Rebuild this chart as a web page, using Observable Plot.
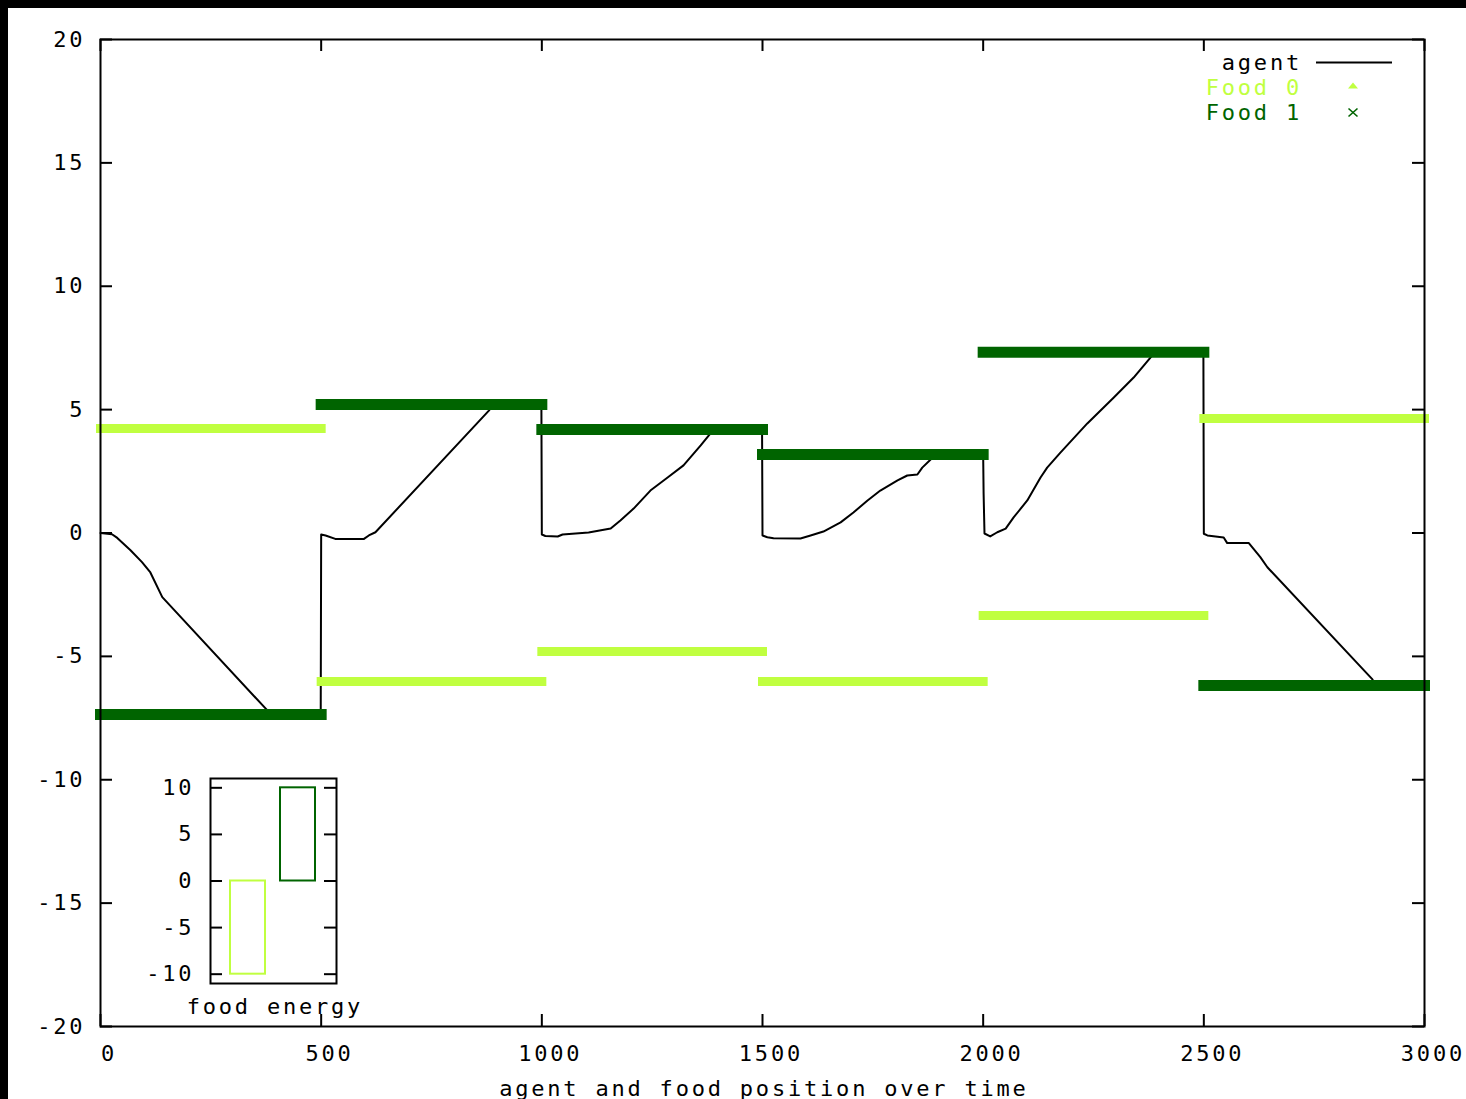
<!DOCTYPE html>
<html>
<head>
<meta charset="utf-8">
<script src="https://cdn.jsdelivr.net/npm/d3@7"></script>
<script src="https://cdn.jsdelivr.net/npm/@observablehq/plot@0.6"></script>
<style>
  html, body { margin: 0; padding: 0; background: #000; width: 1466px; height: 1099px; overflow: hidden; }
  #page { position: absolute; left: 8px; top: 8px; width: 1458px; height: 1091px; background: #fff; }
  #page svg { overflow: visible; max-width: none !important; }
  #page svg text, .lg { font-family: "DejaVu Sans Mono", monospace; font-size: 22px; letter-spacing: 2.8px; }
  #main { position: absolute; left: 0; top: 0; }
  #inset { position: absolute; left: 122px; top: 752px; }
  #inset svg { background: transparent !important; }
  #legend { position: absolute; left: 1092px; top: 41.5px; width: 202px; text-align: right; line-height: 25px; }
  #swatches { position: absolute; left: 1300px; top: 41.5px; }
</style>
</head>
<body>
<div id="page">
  <div id="main"></div>
  <div id="inset"></div>
  <div id="legend" class="lg"></div>
  <div id="swatches"></div>
</div>
<script>
// ---------- data ----------
const xTicks = [0, 500, 1000, 1500, 2000, 2500, 3000];
const yTicks = [-20, -15, -10, -5, 0, 5, 10, 15, 20];
const xTitle = "agent and food position over time";

const segStart = [0, 500, 1000, 1500, 2000, 2500];
const segEnd   = [500, 1000, 1500, 2000, 2500, 3000];
const food0 = [4.24, -6.02, -4.80, -6.02, -3.34, 4.64];
const food1 = [-7.36, 5.21, 4.19, 3.18, 7.33, -6.18];

const agentT = [
  0, 26, 38, 68, 94, 113, 140, 376, 385, 499,
  500, 510, 532, 597, 608, 623, 880, 890, 999,
  1000, 1008, 1036, 1047, 1106, 1156, 1178, 1208, 1246, 1285, 1321, 1360, 1378, 1390, 1499,
  1500, 1511, 1525, 1586, 1609, 1638, 1677, 1706, 1738, 1767, 1806, 1828, 1851, 1862, 1881, 1890, 1999,
  2000, 2001, 2003, 2016, 2032, 2051, 2069, 2100, 2130, 2145, 2175, 2236, 2296, 2341, 2379, 2390, 2499,
  2500, 2508, 2545, 2553, 2602, 2628, 2644, 2881, 2890, 3000
];
const agentV = [
  0, -0.05, -0.2, -0.7, -1.18, -1.6, -2.6, -7.15, -7.36, -7.36,
  -0.06, -0.1, -0.24, -0.24, -0.1, 0.03, 4.96, 5.21, 5.21,
  -0.06, -0.12, -0.14, -0.06, 0.02, 0.18, 0.51, 0.99, 1.72, 2.25, 2.74, 3.55, 3.95, 4.19, 4.19,
  -0.1, -0.17, -0.21, -0.22, -0.1, 0.06, 0.43, 0.83, 1.32, 1.72, 2.13, 2.33, 2.37, 2.65, 2.98, 3.18, 3.18,
  3.18, 1.6, -0.02, -0.14, 0.03, 0.18, 0.63, 1.32, 2.25, 2.65, 3.26, 4.44, 5.49, 6.30, 7.11, 7.33, 7.33,
  -0.03, -0.1, -0.18, -0.41, -0.41, -0.98, -1.39, -5.91, -6.18, -6.18
];

const seriesNames = ["agent", "Food 0", "Food 1"];
const seriesColors = ["#000000", "#c0ff40", "#006400"];

const energyNames = ["Food 0", "Food 1"];
const energy = [-10, 10];
const insetTicks = [-10, -5, 0, 5, 10];
const insetTitle = "food energy";

// ---------- main chart ----------
const W = 1458, H = 1091, mL = 92, mR = 42, mT = 31, mB = 73;
const plotW = W - mL - mR, plotH = H - mT - mB;
const TICK = 12;
const LS = 2.8;
const fontStyle = 'font-family:"DejaVu Sans Mono",monospace;font-size:22px;letter-spacing:2.8px;color:black;';

const main = Plot.plot({
  width: W, height: H,
  marginLeft: mL, marginRight: mR, marginTop: mT, marginBottom: mB,
  x: {domain: [0, 3000]},
  y: {domain: [-20, 20]},
  style: fontStyle + "background:white;",
  marks: [
    Plot.line(agentT, {x: d => d, y: (d, i) => agentV[i], stroke: seriesColors[0], strokeWidth: 2}),
    Plot.link(segStart, {x1: d => d, x2: (d, i) => segEnd[i], y1: (d, i) => food0[i], y2: (d, i) => food0[i],
      stroke: seriesColors[1], strokeWidth: 9, strokeLinecap: "square"}),
    Plot.link(segStart, {x1: d => d, x2: (d, i) => segEnd[i], y1: (d, i) => food1[i], y2: (d, i) => food1[i],
      stroke: seriesColors[2], strokeWidth: 11, strokeLinecap: "square"}),
    Plot.frame({stroke: "black", strokeWidth: 2}),
    Plot.tickY(yTicks, {y: d => d, insetRight: plotW - TICK, stroke: "black", strokeWidth: 2}),
    Plot.tickY(yTicks, {y: d => d, insetLeft: plotW - TICK, stroke: "black", strokeWidth: 2}),
    Plot.tickX(xTicks, {x: d => d, insetBottom: plotH - TICK, stroke: "black", strokeWidth: 2}),
    Plot.tickX(xTicks, {x: d => d, insetTop: plotH - TICK, stroke: "black", strokeWidth: 2}),
    Plot.axisY({ticks: yTicks, tickSize: 0, tickPadding: 18 - LS, tickFormat: d => String(d), label: null}),
    Plot.axisX({ticks: xTicks, tickSize: 0, tickPadding: 19, dx: 7 + LS / 2, tickFormat: d => String(d), label: null}),
    Plot.text([xTitle], {frameAnchor: "bottom", dy: 69, dx: LS / 2, text: d => d, fill: "black"})
  ]
});
document.getElementById("main").appendChild(main);

// ---------- inset chart ----------
const iW = 240, iH = 270, imL = 80, imR = 34, imT = 18, imB = 47;
const iPlotW = iW - imL - imR;
const inset = Plot.plot({
  width: iW, height: iH,
  marginLeft: imL, marginRight: imR, marginTop: imT, marginBottom: imB,
  x: {domain: [-0.75, 1.77]},
  y: {domain: [-11, 11]},
  color: {type: "identity"},
  style: fontStyle + "background:transparent;",
  marks: [
    Plot.rect(energy, {x1: (d, i) => i - 0.35, x2: (d, i) => i + 0.35, y1: 0, y2: d => d,
      fill: "none", stroke: (d, i) => seriesColors[i + 1], strokeWidth: 2}),
    Plot.frame({stroke: "black", strokeWidth: 2}),
    Plot.tickY(insetTicks, {y: d => d, insetRight: iPlotW - TICK, stroke: "black", strokeWidth: 2}),
    Plot.tickY(insetTicks, {y: d => d, insetLeft: iPlotW - TICK, stroke: "black", strokeWidth: 2}),
    Plot.axisY({ticks: insetTicks, tickSize: 0, tickPadding: 19 - LS, tickFormat: d => String(d), label: null}),
    Plot.axisX({ticks: [], label: null}),
    Plot.text([insetTitle], {frameAnchor: "bottom", dy: 30, dx: LS / 2, text: d => d, fill: "black"})
  ]
});
document.getElementById("inset").appendChild(inset);

// ---------- legend ----------
const legend = d3.select("#legend");
seriesNames.forEach((name, i) => {
  legend.append("div").style("color", seriesColors[i]).text(name);
});
const sw = d3.select("#swatches").append("svg").attr("width", 100).attr("height", 75);
sw.append("line").attr("x1", 8).attr("x2", 84).attr("y1", 12.5).attr("y2", 12.5)
  .attr("stroke", seriesColors[0]).attr("stroke-width", 2);
sw.append("path").attr("d", "M40,38.5 L50,38.5 L45,32.5 Z").attr("fill", seriesColors[1]);
sw.append("path").attr("d", "M40.5,58.5 L49.5,66.5 M49.5,58.5 L40.5,66.5")
  .attr("stroke", seriesColors[2]).attr("stroke-width", 1.6).attr("fill", "none");
</script>
</body>
</html>
